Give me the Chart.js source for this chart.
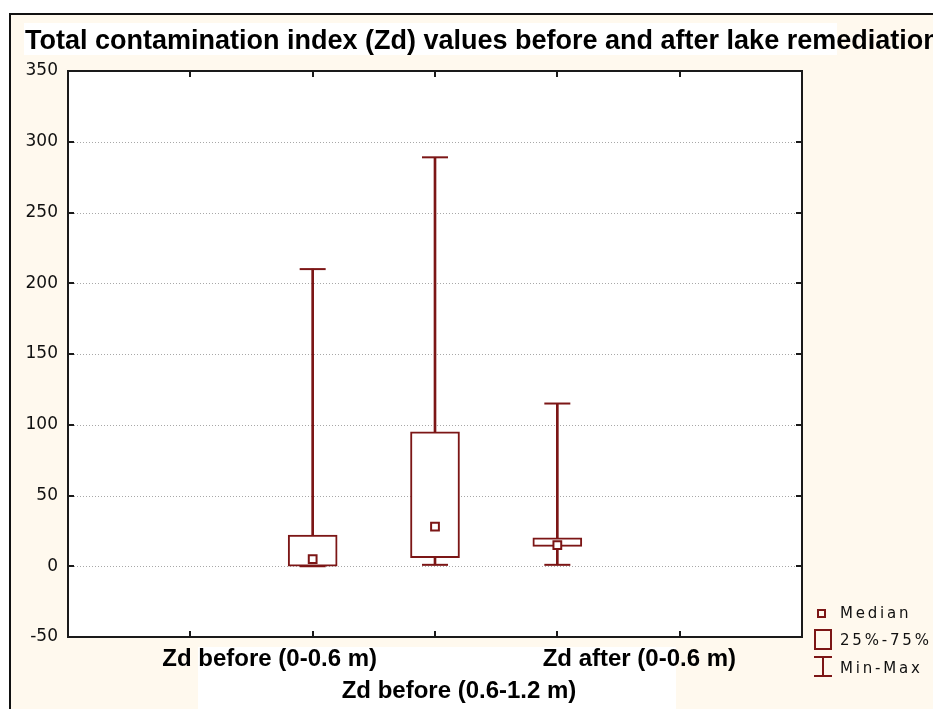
<!DOCTYPE html>
<html lang="en">
<head>
<meta charset="UTF-8">
<title>Total contamination index (Zd)</title>
<script src="https://cdn.jsdelivr.net/npm/chart.js"></script>
<style>
    html, body { margin: 0; padding: 0; background: #fff; }
    canvas { display: block; }
</style>
</head>
<body>
<canvas id="zdChart" width="933" height="709"></canvas>

<script>
    const categories = ['Zd before (0-0.6 m)', 'Zd before (0.6-1.2 m)', 'Zd after (0-0.6 m)'];
    const minValues = [0, 1, 1];
    const q1Values = [0, 6, 14];
    const medianValues = [5, 28, 15];
    const q3Values = [22, 95, 20];
    const maxValues = [210, 289, 115];
    const yTicks = [-50, 0, 50, 100, 150, 200, 250, 300, 350];

    const titleText = 'Total contamination index (Zd) values before and after lake remediation';
    const legendLabels = ['Median', '25%-75%', 'Min-Max'];

    const boxColor = '#7c1616';

    // boxes sit on slots 2..4 of a 0..6 axis, two empty slots on each side
    const slot = i => i + 2;
    const points = values => categories.map((c, i) => ({ x: slot(i), y: values[i] }));
    const ranges = (lo, hi) => categories.map((c, i) => ({ x: slot(i), y: [lo[i], hi[i]] }));

    const decor = {
        id: 'decor',
        beforeDraw(chart) {
            const { ctx, chartArea: a, width, height } = chart;
            ctx.save();
            ctx.fillStyle = '#fff';
            ctx.fillRect(0, 0, width, height);
            // cream panel with its dark frame
            ctx.fillStyle = '#fff9ee';
            ctx.fillRect(9, 13, width, height);
            ctx.strokeStyle = '#111';
            ctx.lineWidth = 2;
            ctx.beginPath();
            ctx.moveTo(10, height);
            ctx.lineTo(10, 14);
            ctx.lineTo(width, 14);
            ctx.stroke();
            // white strips behind the title and the category labels
            ctx.fillStyle = '#fff';
            ctx.fillRect(24, 23, 813, 32);
            ctx.fillRect(198, 647, 478, height - 647);
            ctx.fillRect(a.left, a.top, a.right - a.left, a.bottom - a.top);
            ctx.restore();
        },
        beforeDatasetsDraw(chart) {
            const { ctx, chartArea: a, scales: { x, y } } = chart;
            ctx.save();
            // dotted horizontal grid
            ctx.lineWidth = 1;
            ctx.strokeStyle = '#a8a8a8';
            ctx.setLineDash([1, 2]);
            y.ticks.forEach(t => {
                if (t.value === y.min || t.value === y.max) return;
                const py = Math.round(y.getPixelForValue(t.value)) + 0.5;
                ctx.beginPath();
                ctx.moveTo(a.left, py);
                ctx.lineTo(a.right, py);
                ctx.stroke();
            });
            ctx.setLineDash([]);
            // inward tick marks on all four sides
            ctx.strokeStyle = '#1a1a1a';
            ctx.lineWidth = 2;
            ctx.beginPath();
            y.ticks.forEach(t => {
                if (t.value === y.min || t.value === y.max) return;
                const py = Math.round(y.getPixelForValue(t.value));
                ctx.moveTo(a.left, py);
                ctx.lineTo(a.left + 6, py);
                ctx.moveTo(a.right, py);
                ctx.lineTo(a.right - 6, py);
            });
            for (let v = x.min + 1; v < x.max; v++) {
                const px = Math.round(x.getPixelForValue(v));
                ctx.moveTo(px, a.top);
                ctx.lineTo(px, a.top + 6);
                ctx.moveTo(px, a.bottom);
                ctx.lineTo(px, a.bottom - 6);
            }
            ctx.stroke();
            ctx.strokeRect(a.left, a.top, a.right - a.left, a.bottom - a.top);
            ctx.restore();
        },
        afterDraw(chart) {
            const { ctx, chartArea: a, scales: { x } } = chart;
            ctx.save();
            ctx.fillStyle = '#000';
            ctx.textBaseline = 'alphabetic';

            ctx.font = 'bold 27px "Liberation Sans", Arial, sans-serif';
            ctx.textAlign = 'left';
            ctx.fillText(titleText, 25, 49);

            // category labels, staggered over two rows
            const labelNudge = [-43, 24, 82];
            const labelRow = [666, 698, 666];
            ctx.font = 'bold 24px "Liberation Sans", Arial, sans-serif';
            ctx.textAlign = 'center';
            categories.forEach((c, i) => {
                ctx.fillText(c, x.getPixelForValue(slot(i)) + labelNudge[i], labelRow[i]);
            });

            // legend at the lower right
            const lx = a.right + 12;
            ctx.strokeStyle = boxColor;
            ctx.lineWidth = 2;
            ctx.strokeRect(lx + 4, 610, 7, 7);
            ctx.strokeRect(lx + 1, 630, 16, 19);
            ctx.beginPath();
            ctx.moveTo(lx, 657);
            ctx.lineTo(lx + 18, 657);
            ctx.moveTo(lx + 9, 657);
            ctx.lineTo(lx + 9, 676);
            ctx.moveTo(lx, 676);
            ctx.lineTo(lx + 18, 676);
            ctx.stroke();

            ctx.font = '15px "DejaVu Sans", sans-serif';
            ctx.letterSpacing = '2.8px';
            ctx.textAlign = 'left';
            ctx.fillStyle = '#111';
            const legendBase = [618, 645, 673];
            legendLabels.forEach((t, i) => ctx.fillText(t, lx + 26, legendBase[i]));
            ctx.restore();
        }
    };

    new Chart(document.getElementById('zdChart'), {
        type: 'bar',
        data: {
            datasets: [
                {
                    type: 'scatter',
                    label: 'Median',
                    data: points(medianValues),
                    pointStyle: 'rect',
                    pointRadius: 5.5,
                    pointBorderWidth: 2,
                    borderWidth: 2,
                    borderColor: boxColor,
                    backgroundColor: '#fff',
                    order: 0
                },
                {
                    type: 'bar',
                    label: '25%-75%',
                    data: ranges(q1Values, q3Values),
                    backgroundColor: '#fff',
                    borderColor: boxColor,
                    borderWidth: 2,
                    borderSkipped: false,
                    barThickness: 49,
                    grouped: false,
                    order: 1
                },
                {
                    type: 'scatter',
                    label: 'Min-Max caps',
                    data: points(minValues).concat(points(maxValues)),
                    pointStyle: 'line',
                    pointRadius: 13,
                    pointBorderWidth: 2,
                    borderWidth: 2,
                    borderColor: boxColor,
                    order: 2
                },
                {
                    type: 'bar',
                    label: 'Min-Max',
                    data: ranges(minValues, maxValues),
                    backgroundColor: boxColor,
                    borderWidth: 0,
                    barThickness: 2,
                    grouped: false,
                    order: 3
                }
            ]
        },
        options: {
            responsive: false,
            animation: false,
            devicePixelRatio: 1,
            events: [],
            layout: { padding: { left: 0, top: 71, right: 131, bottom: 72 } },
            plugins: {
                legend: { display: false },
                title: { display: false },
                tooltip: { enabled: false }
            },
            scales: {
                x: {
                    type: 'linear',
                    display: false,
                    offset: false,
                    min: 0,
                    max: categories.length + 3
                },
                y: {
                    min: yTicks[0],
                    max: yTicks[yTicks.length - 1],
                    afterBuildTicks: scale => { scale.ticks = yTicks.map(v => ({ value: v })); },
                    afterFit: scale => { scale.width = 68; },
                    ticks: {
                        color: '#111',
                        padding: 10,
                        font: { family: '"DejaVu Sans", sans-serif', size: 17 }
                    },
                    grid: { display: false, drawTicks: false },
                    border: { display: false }
                }
            }
        },
        plugins: [decor]
    });
</script>
</body>
</html>
